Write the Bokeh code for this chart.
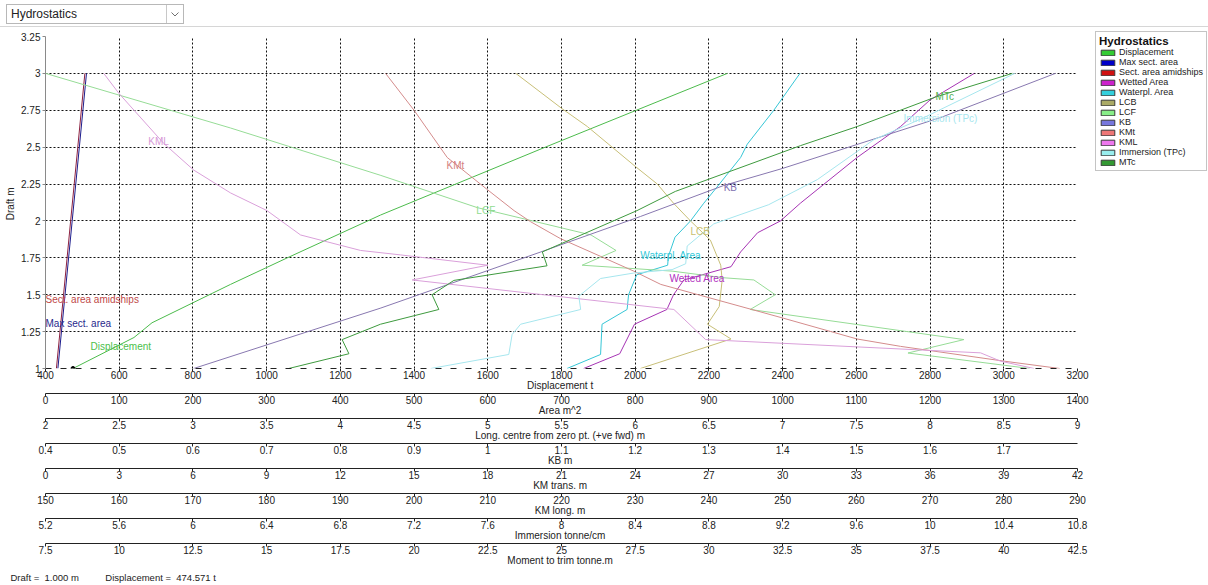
from bokeh.plotting import figure
from bokeh.models import (Range1d, LinearAxis, FixedTicker, NumeralTickFormatter, Legend, LegendItem,
                          Label, Title, Select, Div, InlineStyleSheet)
from bokeh.layouts import column
from bokeh.embed import file_html
from bokeh.resources import INLINE

FONT = "Liberation Sans"
NAN = float("nan")

# ---------------- tick values of the axes ----------------
draft_ticks = [1.0, 1.25, 1.5, 1.75, 2.0, 2.25, 2.5, 2.75, 3.0, 3.25]
disp_ticks = [400, 600, 800, 1000, 1200, 1400, 1600, 1800, 2000, 2200, 2400, 2600, 2800, 3000, 3200]
area_ticks = [0, 100, 200, 300, 400, 500, 600, 700, 800, 900, 1000, 1100, 1200, 1300, 1400]
lc_ticks = [2, 2.5, 3, 3.5, 4, 4.5, 5, 5.5, 6, 6.5, 7, 7.5, 8, 8.5, 9]
kb_ticks = [0.4, 0.5, 0.6, 0.7, 0.8, 0.9, 1.0, 1.1, 1.2, 1.3, 1.4, 1.5, 1.6, 1.7]
kmt_ticks = [0, 3, 6, 9, 12, 15, 18, 21, 24, 27, 30, 33, 36, 39, 42]
kml_ticks = [150, 160, 170, 180, 190, 200, 210, 220, 230, 240, 250, 260, 270, 280, 290]
tpc_ticks = [5.2, 5.6, 6.0, 6.4, 6.8, 7.2, 7.6, 8.0, 8.4, 8.8, 9.2, 9.6, 10.0, 10.4, 10.8]
mtc_ticks = [7.5, 10, 12.5, 15, 17.5, 20, 22.5, 25, 27.5, 30, 32.5, 35, 37.5, 40, 42.5]

# ---------------- series (draft m vs quantity) ----------------
disp_draft = [1.0, 1.21, 1.31, 1.57, 1.75, 2.04, 2.5, 2.75, 3.0]
disp_t = [474.571, 640, 689, 902, 1056, 1309, 1756, 2003, 2250]

sect_draft = [1.0, 1.5, 2.0, 2.5, 3.0]
max_sect_area = [16.8, 26.5, 36.2, 45.9, 55.6]
sect_area_mid = [14.8, 24.5, 34.1, 43.8, 53.4]

wet_draft = [1.0, 1.1, 1.3, 1.4, 1.5, 1.6, 1.69, 1.79, 1.92, 2.0, 2.12, 2.43, 2.64, 2.82, 3.0]
wet_area = [730, 779, 799, 843, 852, 866, 930, 943, 966, 997, 1024, 1101, 1160, 1200, 1260]

wp_draft = [1.0, 1.095, 1.3, 1.4, 1.5, 1.635, 1.70, 1.76, 1.89, 2.0, 2.12, 2.23, 2.43, 2.52, 2.75, 3.0]
wp_area = [707.5, 753, 755, 789, 791, 802, 844, 845, 854, 875, 893, 911, 943, 952, 988, 1023.5]

lcb_draft = [1.0, 1.2, 1.3, 1.42, 1.6, 1.7, 1.87, 2.0, 2.12, 2.25, 2.37, 2.64, 2.76, 3.0]
lcb = [6.035, 6.65, 6.49, 6.57, 6.59, 6.58, 6.51, 6.375, 6.26, 6.15, 6.0, 5.675, 5.505, 5.19]

lcf_draft = [1.0, 1.105, 1.196, 1.40, 1.50, 1.60, 1.615, 1.66, 1.70, 1.80, 1.905, 2.09, 2.31, 2.63, 3.0]
lcf = [8.675, 7.85, 8.23, 6.78, 6.95, 6.805, 6.6, 6.25, 5.64, 5.87, 5.70, 4.93, 4.27, 3.255, 2.0]

kb_draft = [1.0, 1.41, 1.79, 2.03, 2.24, 2.356, 2.70, 3.0]
kb = [0.601, 0.855, 1.072, 1.207, 1.32, 1.40, 1.614, 1.77]

kmt_draft = [1.0, 1.05, 1.15, 1.20, 1.34, 1.48, 1.57, 1.66, 1.76, 1.88, 1.995, 2.07, 2.21, 2.43, 2.75, 3.0]
kmt = [41.28, 39.0, 34.8, 33.03, 30.05, 27.0, 25.04, 23.94, 22.59, 20.96, 19.74, 19.07, 18.0, 16.35, 15.0, 13.84]

kml_draft = [1.0, 1.05, 1.106, 1.196, 1.40, 1.60, 1.70, 1.77, 1.80, 1.905, 2.07, 2.19, 2.345, 2.525, 2.865, 3.0]
kml = [284.1, 279.55, 276.85, 239.55, 235.25, 199.75, 210.0, 198.15, 192.75, 184.6, 180.05, 175.1, 170.1, 166.05, 159.95, 157.9]

tpc_draft = [1.0, 1.095, 1.23, 1.30, 1.40, 1.49, 1.61, 1.647, 1.67, 1.71, 1.83, 1.98, 2.11, 2.28, 2.55, 2.70, 3.0]
tpc = [7.29, 7.714, 7.732, 7.778, 8.104, 8.094, 8.212, 8.392, 8.6, 8.674, 8.682, 8.826, 9.124, 9.388, 9.694, 9.966, 10.46]

mtc_draft = [1.0, 1.10, 1.196, 1.30, 1.40, 1.50, 1.597, 1.696, 1.79, 2.07, 2.20, 2.51, 2.64, 2.84, 3.0]
mtc = [15.75, 17.79, 17.56, 18.86, 20.84, 20.61, 21.35, 24.51, 24.35, 27.56, 28.86, 33.1, 35.03, 37.69, 40.29]

# ---------------- main figure ----------------
FW, FH = 1032, 332
p = figure(frame_width=FW, frame_height=FH, x_range=Range1d(400, 3200), y_range=Range1d(1, 3.25),
           output_backend="svg", toolbar_location=None,
           min_border_left=45, min_border_top=9, min_border_right=131, min_border_bottom=0)
p.outline_line_color = None
p.background_fill_color = "white"

# grids: dotted black
p.xgrid.ticker = FixedTicker(ticks=disp_ticks[1:])
p.ygrid.ticker = FixedTicker(ticks=draft_ticks[1:])
for g in (p.xgrid, p.ygrid):
    g.grid_line_color = "#111111"
    g.grid_line_dash = "2 2"
    g.grid_line_width = 1

fmt = "0.[00]"

def style_axis(ax, color="#222222"):
    ax.major_label_text_font = FONT
    ax.major_label_text_font_size = "10px"
    ax.major_label_text_color = "#222222"
    ax.axis_label_text_font = FONT
    ax.axis_label_text_font_size = "10px"
    ax.axis_label_text_font_style = "normal"
    ax.axis_label_text_color = "#222222"
    ax.axis_line_color = color
    ax.major_tick_line_color = color
    ax.minor_tick_line_color = None
    ax.major_tick_in = 0
    ax.major_tick_out = 3
    ax.major_label_standoff = -1
    ax.axis_label_standoff = -2

# y axis
yax = p.yaxis[0]
yax.ticker = FixedTicker(ticks=draft_ticks)
yax.formatter = NumeralTickFormatter(format=fmt)
yax.axis_label = "Draft  m"
style_axis(yax, "#8a8a8a")
yax.major_label_standoff = 2
yax.axis_label_standoff = 2

# main x axis (displacement)
xax = p.xaxis[0]
xax.ticker = FixedTicker(ticks=disp_ticks)
xax.formatter = NumeralTickFormatter(format=fmt)
xax.axis_label = "Displacement  t"
style_axis(xax)
xax.axis_line_dash = "6 9"

# extra x axes
extra = [
    ("area", 0, 1400, area_ticks, "Area  m^2"),
    ("lc", 2, 9, lc_ticks, "Long. centre  from zero pt. (+ve fwd) m"),
    ("kb", 0.4, 1.8, kb_ticks, "KB  m"),
    ("kmt", 0, 42, kmt_ticks, "KM trans.  m"),
    ("kml", 150, 290, kml_ticks, "KM long.  m"),
    ("tpc", 5.2, 10.8, tpc_ticks, "Immersion  tonne/cm"),
    ("mtc", 7.5, 42.5, mtc_ticks, "Moment to trim  tonne.m"),
]
p.extra_x_ranges = {name: Range1d(lo, hi) for name, lo, hi, _, _ in extra}
for name, lo, hi, ticks, lab in extra:
    ax = LinearAxis(x_range_name=name, ticker=FixedTicker(ticks=ticks),
                    formatter=NumeralTickFormatter(format=fmt), axis_label=lab)
    style_axis(ax)
    p.add_layout(ax, "below")

# footer
footer = Title(text="Draft =\u00a0 1.000 m\u00a0\u00a0\u00a0\u00a0\u00a0\u00a0\u00a0\u00a0\u00a0 Displacement =\u00a0 474.571 t",
               align="left", offset=-35, text_font=FONT, text_font_size="9.5px",
               text_font_style="normal", text_color="#222222", standoff=3)
p.add_layout(footer, "below")

# ---------------- series lines ----------------
series = [
    ("Displacement", disp_t, disp_draft, "default", "#4cbb4c", "#33cc33"),
    ("Max sect. area", max_sect_area, sect_draft, "area", "#1c1c8c", "#0000c8"),
    ("Sect. area amidships", sect_area_mid, sect_draft, "area", "#8c2040", "#d01010"),
    ("Wetted Area", wet_area, wet_draft, "area", "#a634b4", "#cc22cc"),
    ("Waterpl. Area", wp_area, wp_draft, "area", "#36c6d6", "#33d0dd"),
    ("LCB", lcb, lcb_draft, "lc", "#c8bf78", "#aaaa66"),
    ("LCF", lcf, lcf_draft, "lc", "#96dc96", "#88ee88"),
    ("KB", kb, kb_draft, "kb", "#8878b0", "#7777dd"),
    ("KMt", kmt, kmt_draft, "kmt", "#d48c8c", "#ee7777"),
    ("KML", kml, kml_draft, "kml", "#daa0da", "#ee77ee"),
    ("Immersion (TPc)", tpc, tpc_draft, "tpc", "#a6e6ee", "#99eeee"),
    ("MTc", mtc, mtc_draft, "mtc", "#3e9a3e", "#339933"),
]
items = []
for name, xs, ys, rng, lc, fc in series:
    p.line(x=xs, y=ys, x_range_name=rng, line_color=lc, line_width=1)
    # legend swatch proxy (no drawable coordinates)
    box = p.quad(left=[NAN], right=[NAN], bottom=[NAN], top=[NAN],
                 fill_color=fc, line_color="#3a3a3a")
    items.append(LegendItem(label=name, renderers=[box]))

p.scatter(x=[disp_t[0]], y=[disp_draft[0]], size=4, color="black")

# in-plot series labels (layout positions, in displacement/draft coordinates)
label_pos = [
    ("KML", 679, 2.54, "#d79ad7"),
    ("KMt", 1488, 2.378, "#d48080"),
    ("LCF", 1569, 2.074, "#90dc90"),
    ("KB", 2240, 2.23, "#8070b0"),
    ("LCB", 2150, 1.926, "#c8bf70"),
    ("Waterpl. Area", 2014, 1.764, "#30c8d8"),
    ("Wetted Area", 2093, 1.608, "#b030c0"),
    ("Sect. area amidships", 400, 1.466, "#c04848"),
    ("Max sect. area", 400, 1.304, "#28288c"),
    ("Displacement", 522, 1.149, "#4cc04c"),
    ("MTc", 2815, 2.845, "#52b052"),
    ("Immersion (TPc)", 2728, 2.696, "#a6e6ee"),
]
for txt, lx, ly, col in label_pos:
    p.add_layout(Label(x=lx, y=ly, text=txt, text_color=col, text_font=FONT,
                       text_font_size="10px", text_baseline="middle", text_align="left"))

# legend placed in the right border: (x, y) offsets of its lower-left corner within that panel
LEG_H = 140
legend = Legend(items=items, location=(18, FH + 5 - LEG_H), title="Hydrostatics",
                title_text_font=FONT, title_text_font_size="11.5px", title_text_font_style="bold",
                title_text_color="#111111", title_standoff=0,
                label_text_font=FONT, label_text_font_size="9px", label_text_color="#222222",
                glyph_width=17, glyph_height=7, label_height=9, spacing=0, padding=3,
                label_standoff=3, margin=0, border_line_color="#8a8a8a",
                background_fill_color="white", background_fill_alpha=1.0)
p.add_layout(legend, "right")

# ---------------- dropdown header ----------------
css = """
select, .bk-input {
  font: 12px 'Liberation Sans', sans-serif !important;
  color: #222 !important;
  height: 20px !important; min-height: 20px !important;
  border: 1px solid #b8b8b8 !important; border-radius: 0 !important;
  padding: 0 4px !important;
  -webkit-appearance: none !important; appearance: none !important;
  background-color: #ffffff !important;
  background-image: url("data:image/svg+xml;utf8,<svg xmlns='http://www.w3.org/2000/svg' width='17' height='18'><rect x='0.5' y='-1' width='17' height='20' fill='white' stroke='%23c8c8c8'/><path d='M5.5 7.5 L9 11 L12.5 7.5' fill='none' stroke='%23707070'/></svg>") !important;
  background-repeat: no-repeat !important;
  background-position: right center !important;
  background-size: 17px 18px !important;
}
"""
sel = Select(value="Hydrostatics", options=["Hydrostatics"], width=178, height=20,
             margin=(4, 0, 2, 6), stylesheets=[InlineStyleSheet(css=css)])
sep = Div(text="", width=1208, height=1, margin=(0, 0, 0, 0),
          styles={"background-color": "#d6d6d6"})

layout = column(sel, sep, p, spacing=0)
open("out.html", "w").write(file_html(layout, INLINE))
